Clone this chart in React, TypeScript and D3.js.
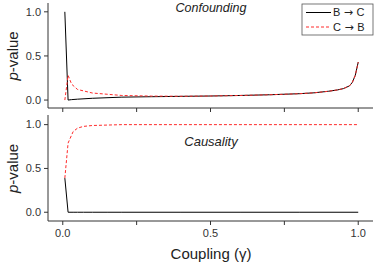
import React from "react";
import * as d3 from "d3";

// coupling values (x) and p-values
const couplingTop = [0.007, 0.018, 0.03, 0.05, 0.1, 0.2, 0.3, 0.4, 0.5, 0.6, 0.7, 0.8, 0.85, 0.9, 0.93, 0.95, 0.97, 0.98, 0.99, 1.0];
const bcTop = [1.0, 0.0, 0.005, 0.01, 0.02, 0.033, 0.038, 0.042, 0.046, 0.052, 0.06, 0.072, 0.082, 0.1, 0.115, 0.13, 0.16, 0.2, 0.28, 0.43];
const cbTop = [0.0, 0.28, 0.18, 0.12, 0.08, 0.052, 0.045, 0.043, 0.046, 0.052, 0.06, 0.072, 0.082, 0.1, 0.115, 0.13, 0.16, 0.2, 0.28, 0.43];

const couplingBottom = [0.007, 0.018, 0.035, 0.05, 0.07, 0.1, 0.15, 0.2, 0.4, 0.6, 0.8, 1.0];
const bcBottom = [0.39, 0.0, 0.0, 0.0, 0.0, 0.0, 0.0, 0.0, 0.0, 0.0, 0.0, 0.0];
const cbBottom = [0.39, 0.79, 0.92, 0.96, 0.98, 0.99, 0.995, 1.0, 1.0, 1.0, 1.0, 1.0];

const xTicks = [0, 0.25, 0.5, 0.75, 1.0];
const xTickLabels = [0, 0.5, 1.0];
const yTicks = [0, 0.5, 1.0];
const legendLabels = [["B", "C"], ["C", "B"]];

const FONT = "'Liberation Sans', Arial, sans-serif";
const AXIS = "#333";

const x = d3.scaleLinear().domain([-0.05, 1.05]).range([48, 373]);

const Panel = ({ y, xs, bc, cb, title, titleY, titleSize, showLabels }) => {
  const line = d3
    .line<number>()
    .x((_, i) => x(xs[i]))
    .y((d) => y(d));
  const [y0, y1] = y.range();
  const midY = (y(0) + y(1)) / 2;
  return (
    <g>
      {/* axes */}
      <line x1={48} x2={48} y1={y1} y2={y0} stroke={AXIS} strokeWidth={1} />
      <line x1={48} x2={373} y1={y0} y2={y0} stroke={AXIS} strokeWidth={1} />
      {xTicks.map((t) => (
        <line key={"xt" + t} x1={x(t)} x2={x(t)} y1={y0} y2={y0 + 4} stroke={AXIS} />
      ))}
      {showLabels &&
        xTickLabels.map((t) => (
          <text key={"xl" + t} x={x(t)} y={y0 + 16} textAnchor="middle" fontSize={11} fill={AXIS} fontFamily={FONT}>
            {d3.format(".1f")(t)}
          </text>
        ))}
      {yTicks.map((t) => (
        <g key={"yt" + t}>
          <line x1={44} x2={48} y1={y(t)} y2={y(t)} stroke={AXIS} />
          <text x={41} y={y(t)} dy="0.35em" textAnchor="end" fontSize={11} fill={AXIS} fontFamily={FONT}>
            {d3.format(".1f")(t)}
          </text>
        </g>
      ))}
      <text
        transform={`translate(18,${midY}) rotate(-90)`}
        textAnchor="middle"
        fontSize={15}
        fill="#222"
        fontFamily={FONT}
      >
        <tspan fontStyle="italic">p</tspan>-value
      </text>
      <text x={211} y={titleY} textAnchor="middle" fontSize={titleSize} fontStyle="italic" fill="#222" fontFamily={FONT}>
        {title}
      </text>
      {/* series */}
      <path d={line(bc) ?? ""} fill="none" stroke="#000" strokeWidth={1} />
      <path d={line(cb) ?? ""} fill="none" stroke="#ff2b2b" strokeWidth={1} strokeDasharray="3,2" />
    </g>
  );
};

export default function App() {
  const yTop = d3.scaleLinear().domain([-0.09, 1.1]).range([108, 3]);
  const yBottom = d3.scaleLinear().domain([-0.1, 1.11]).range([221, 115]);
  return (
    <svg width={374} height={266} style={{ position: "absolute", left: 0, top: 0, background: "#fff" }}>
      <Panel y={yTop} xs={couplingTop} bc={bcTop} cb={cbTop} title="Confounding" titleY={12} titleSize={12.5} showLabels={false} />
      <Panel y={yBottom} xs={couplingBottom} bc={bcBottom} cb={cbBottom} title="Causality" titleY={146} titleSize={13} showLabels={true} />
      {/* legend */}
      <g>
        <rect x={302} y={4} width={71} height={31} fill="#fff" stroke="#555" strokeWidth={0.8} />
        {legendLabels.map(([a, b], i) => (
          <g key={a + b}>
            <line
              x1={306}
              x2={331}
              y1={12.5 + i * 14.5}
              y2={12.5 + i * 14.5}
              stroke={i === 0 ? "#000" : "#ff2b2b"}
              strokeDasharray={i === 0 ? undefined : "3,2"}
            />
            <text x={333} y={12.5 + i * 14.5} dy="0.35em" fontSize={11} fill="#222" fontFamily={FONT}>
              {a}
              <tspan fontFamily="'DejaVu Sans', sans-serif" fontSize={11}>{" \u2192 "}</tspan>
              {b}
            </text>
          </g>
        ))}
      </g>
      <text x={211} y={259} textAnchor="middle" fontSize={15} fill="#222" fontFamily={FONT}>
        {"Coupling (\u03b3)"}
      </text>
    </svg>
  );
}
